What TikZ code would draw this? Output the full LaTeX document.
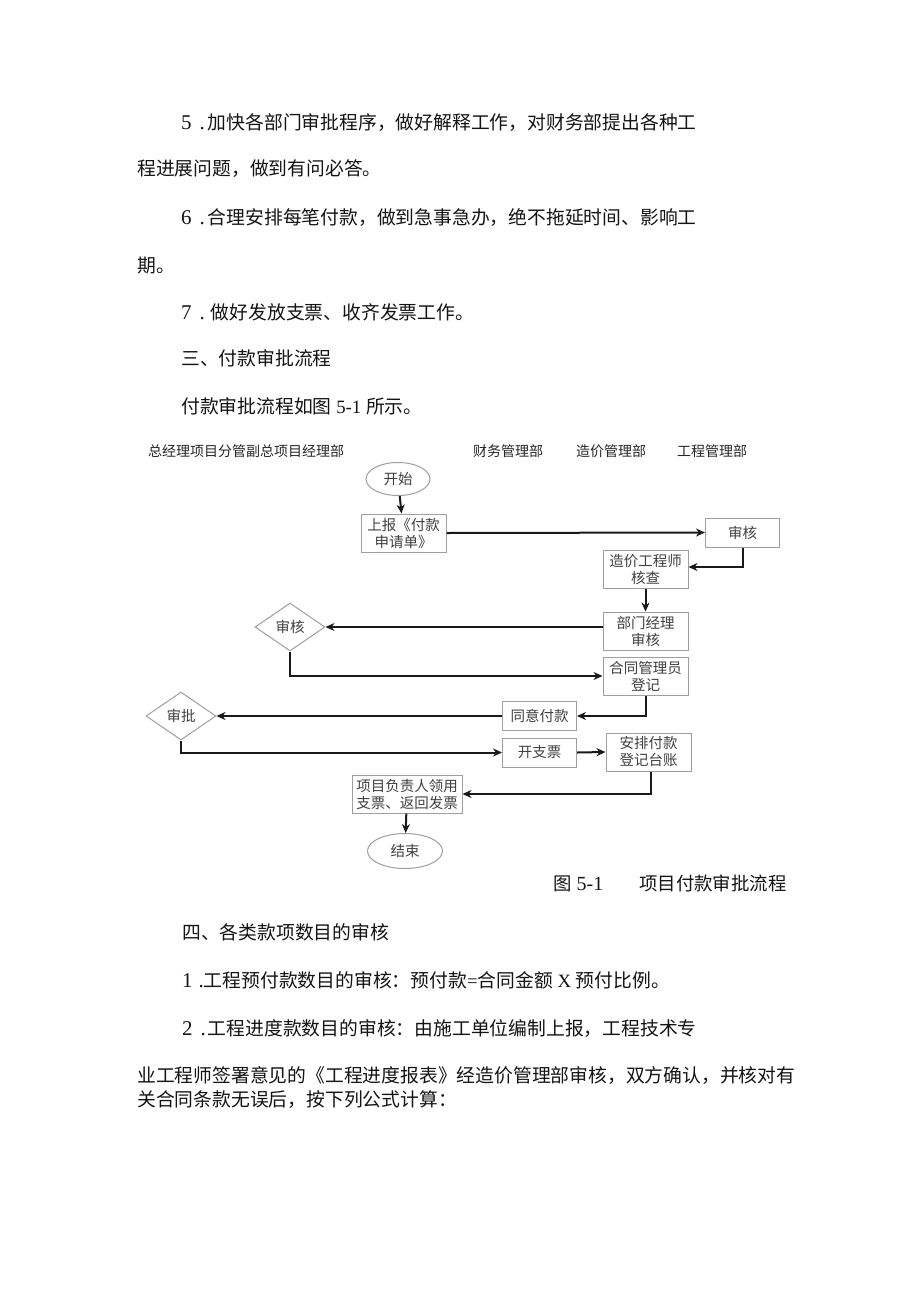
\documentclass[tikz,border=0pt]{standalone}
\usepackage{fontspec}
\setmainfont{Liberation Serif}
\newfontfamily\cjk{Noto Sans CJK SC}
\usetikzlibrary{positioning, shapes.geometric, arrows.meta}
\newcommand{\lat}[1]{{\rmfamily #1}}
\tikzset{
	textline/.style={anchor=base west, inner sep=0pt, text=black!92, font=\fontsize{18.8}{22}\selectfont\cjk},
	lanelabel/.style={anchor=base west, inner sep=0pt, text=black!85, font=\fontsize{14}{17}\selectfont\cjk},
	flow/.style={-{Stealth[length=9pt,width=8pt]}, line width=2pt, black!90}
}
\begin{document}
\begin{tikzpicture}[
		x=1pt, y=-1pt,
		stepbox/.style={draw=gray!75, line width=1pt, rectangle, align=center, inner sep=0pt, minimum width=85pt, minimum height=38pt, text=black!75, font=\fontsize{14.5}{17}\selectfont\cjk},
		smallstep/.style={stepbox, minimum width=74pt, minimum height=29pt},
		check/.style={draw=gray!75, line width=1pt, diamond, inner sep=0pt, minimum width=70pt, minimum height=48pt, text=black!75, font=\fontsize{14.5}{17}\selectfont\cjk},
		terminal/.style={draw=gray!75, line width=1pt, ellipse, inner sep=0pt, minimum width=64pt, minimum height=33pt, text=black!75, font=\fontsize{14.5}{17}\selectfont\cjk}
		]
		\fill[white] (0,0) rectangle (920,1301);
		\useasboundingbox (0,0) rectangle (920,1301);
		
		% text above the chart
		\node[textline] (l5) at (181,129) {\lat{\fontsize{21}{22}\selectfont 5\hspace{8pt}.}\hspace{3pt}加快各部门审批程序，做好解释工作，对财务部提出各种工};
		\node[textline] (l5b) at (137,175) {程进展问题，做到有问必答。};
		\node[textline] (l6) at (181,224) {\lat{\fontsize{21}{22}\selectfont 6\hspace{8pt}.}\hspace{3pt}合理安排每笔付款，做到急事急办，绝不拖延时间、影响工};
		\node[textline] (l6b) at (137,272) {期。};
		\node[textline] (l7) at (181,319) {\lat{\fontsize{21}{22}\selectfont 7\hspace{8pt}.}\hspace{6pt}做好发放支票、收齐发票工作。};
		\node[textline] (sec3) at (181,365) {三、付款审批流程};
		\node[textline] (ref) at (181,413) {付款审批流程如图\lat{ 5-1 }所示。};
		
		% lanes
		\node[lanelabel] (lane1) at (148,456) {总经理项目分管副总项目经理部};
		\node[lanelabel] (lane2) at (473,456) {财务管理部};
		\node[lanelabel] (lane3) at (576,456) {造价管理部};
		\node[lanelabel] (lane4) at (677,456) {工程管理部};
		
		% chart
		\node[terminal] (start) at (398,479) {开始};
		\node[stepbox] (report) at (403.5,533) {上报《付款\\申请单》};
		\node[smallstep] (audit) at (742.5,532.5) {审核};
		\node[stepbox] (costeng) at (645.5,569) {造价工程师\\核查};
		\node[stepbox] (deptmgr) at (645.5,631) {部门经理\\审核};
		\node[check] (review) at (290,627) {审核};
		\node[stepbox] (contract) at (645.5,676) {合同管理员\\登记};
		\node[smallstep] (agree) at (539.5,716) {同意付款};
		\node[check] (approve) at (181,716) {审批};
		\node[smallstep] (cheque) at (539.5,752.5) {开支票};
		\node[stepbox] (ledger) at (648.5,752) {安排付款\\登记台账};
		\node[stepbox, minimum width=110pt] (collect) at (407,794) {项目负责人领用\\支票、返回发票};
		\node[terminal, minimum width=75pt, minimum height=35pt] (finish) at (405,851) {结束};
		
		\draw[flow] (start) -- (report);
		\draw[flow] (report.east) -- (audit.west);
		\draw[flow] (audit.south) |- ([yshift=2pt]costeng.east);
		\draw[flow] (costeng) -- (deptmgr);
		\draw[flow] (deptmgr.west |- review.east) -- (review.east);
		\draw[flow] (review.south) |- (contract.west);
		\draw[flow] (contract.south) |- (agree.east);
		\draw[flow] (agree.west) -- (approve.east);
		\draw[flow] (approve.south) |- (cheque.west);
		\draw[flow] (cheque.east) -- (ledger.west);
		\draw[flow] ([xshift=2pt]ledger.south) |- (collect.east);
		\draw[flow] (collect) -- (finish);
		
		\node[textline, font=\fontsize{18.4}{22}\selectfont\cjk] (caption) at (553,890) {图\lat{\fontsize{20}{22}\selectfont\ 5-1}\hspace{36pt}项目付款审批流程};
		
		% text below the chart
		\node[textline] (sec4) at (182,939) {四、各类款项数目的审核};
		\node[textline] (l1) at (182,987) {\lat{\fontsize{21}{22}\selectfont 1\hspace{6pt}.}工程预付款数目的审核：预付款\lat{=}合同金额\lat{ X }预付比例。};
		\node[textline] (l2) at (182,1035) {\lat{\fontsize{21}{22}\selectfont 2\hspace{8pt}.}\hspace{2pt}工程进度款数目的审核：由施工单位编制上报，工程技术专};
		\node[textline] (l2b) at (137,1082) {业工程师签署意见的《工程进度报表》经造价管理部审核，双方确认，并核对有};
		\node[textline] (l2c) at (137,1106) {关合同条款无误后，按下列公式计算：};
		
	\end{tikzpicture}
\end{document}
